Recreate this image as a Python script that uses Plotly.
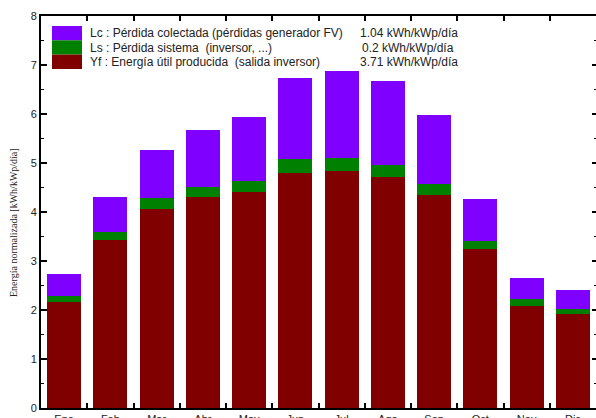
import plotly.graph_objects as go

# Monthly normalized production (kWh/kWp/día)
months = ["Ene", "Feb", "Mar", "Abr", "May", "Jun", "Jul", "Ago", "Sep", "Oct", "Nov", "Dic"]
yf = [2.16, 3.43, 4.07, 4.30, 4.41, 4.80, 4.84, 4.71, 4.35, 3.24, 2.09, 1.91]   # energía útil
ls = [0.13, 0.17, 0.21, 0.22, 0.22, 0.28, 0.27, 0.24, 0.22, 0.17, 0.13, 0.11]   # pérdida sistema
lc = [0.44, 0.70, 0.99, 1.15, 1.30, 1.65, 1.76, 1.72, 1.40, 0.85, 0.43, 0.38]   # pérdida colectada

# Annual averages shown in the key
avg_lc, avg_ls, avg_yf = 1.04, 0.2, 3.71

C_YF, C_LS, C_LC = "#800000", "#008000", "#8000FF"
W, H = 596, 418
ML, MR, MT, MB = 41, 0, 16, 10
PW, PH = W - ML - MR, H - MT - MB


def px_x(x):
    """pixel column -> paper x"""
    return (x - ML) / PW


def px_y(y):
    """pixel row -> y data value (axis 0..8)"""
    return (H - MB - y) / PH * 8


fig = go.Figure()
fig.add_trace(go.Bar(x=months, y=yf, marker=dict(color=C_YF, line=dict(width=0)), name="Yf"))
fig.add_trace(go.Bar(x=months, y=ls, marker=dict(color=C_LS, line=dict(width=0)), name="Ls"))
fig.add_trace(go.Bar(x=months, y=lc, marker=dict(color=C_LC, line=dict(width=0)), name="Lc"))
# carrier for the right-hand tick axis
fig.add_trace(go.Scatter(x=[months[0]], y=[0], yaxis="y2", mode="markers",
                         marker=dict(opacity=0), hoverinfo="skip"))

tickfont = dict(family="Liberation Sans, Arial, sans-serif", size=11, color="#222")

fig.update_layout(
    width=W, height=H,
    margin=dict(l=ML, r=MR, t=MT, b=MB, autoexpand=False),
    paper_bgcolor="white", plot_bgcolor="white",
    barmode="stack", bargap=0.27, showlegend=False,
    font=dict(family="Liberation Sans, Arial, sans-serif", color="#222"),
    xaxis=dict(
        type="category", range=[-0.5, 11.5], tickson="boundaries",
        ticks="inside", ticklen=5, tickwidth=1.5, tickcolor="black",
        showline=True, linewidth=2, linecolor="black", mirror="ticks",
        showgrid=False, zeroline=False, tickfont=tickfont, automargin=False,
    ),
    yaxis=dict(
        range=[0, 8], dtick=1, ticks="inside", ticklen=6, tickwidth=1.5, tickcolor="black",
        showline=True, linewidth=2, linecolor="black",
        showgrid=False, zeroline=False, tickfont=tickfont, automargin=False,
        minor=dict(dtick=0.5, ticks="inside", ticklen=3, tickwidth=1, tickcolor="black"),
    ),
    yaxis2=dict(
        overlaying="y", side="right", anchor="x", range=[0, 8], dtick=1,
        ticks="inside", ticklen=4, tickwidth=1.5, tickcolor="black",
        showline=False, showgrid=False, zeroline=False, showticklabels=False,
        automargin=False,
        minor=dict(dtick=0.5, ticks="inside", ticklen=2, tickwidth=1, tickcolor="black"),
    ),
)

# Key: colour swatches, labels and annual averages
key_rows = [
    (C_LC, "Lc : Pérdida colectada (pérdidas generador FV)", f"{avg_lc:.2f} kWh/kWp/día", 26, 40.3, 358),
    (C_LS, "Ls : Pérdida sistema \u00a0(inversor, ...)", f"{avg_ls:.1f} kWh/kWp/día", 40.3, 54.6, 360),
    (C_YF, "Yf : Energía útil producida \u00a0(salida inversor)", f"{avg_yf:.2f} kWh/kWp/día", 54.6, 69, 358),
]
keyfont = dict(family="Liberation Sans, Arial, sans-serif", size=12, color="#222")
for color, label, value, y0, y1, vx in key_rows:
    fig.add_shape(type="rect", xref="paper", yref="y",
                  x0=px_x(52), x1=px_x(82), y0=px_y(y1), y1=px_y(y0),
                  fillcolor=color, line=dict(width=0))
    yc = px_y((y0 + y1) / 2 + 0.3)
    fig.add_annotation(xref="paper", yref="y", x=px_x(88), y=yc, text=label,
                       showarrow=False, xanchor="left", yanchor="middle", font=keyfont)
    fig.add_annotation(xref="paper", yref="y", x=px_x(vx), y=yc, text=value,
                       showarrow=False, xanchor="left", yanchor="middle", font=keyfont)

# Vertical axis title
fig.add_annotation(xref="paper", yref="paper", x=px_x(13), y=(H - MB - 223) / PH,
                   text="Energía normalizada [kWh/kWp/día]", textangle=-90,
                   showarrow=False, xanchor="center", yanchor="middle",
                   font=dict(family="Liberation Serif, Times New Roman, serif", size=10, color="#222"))

fig.write_html("out.html")
